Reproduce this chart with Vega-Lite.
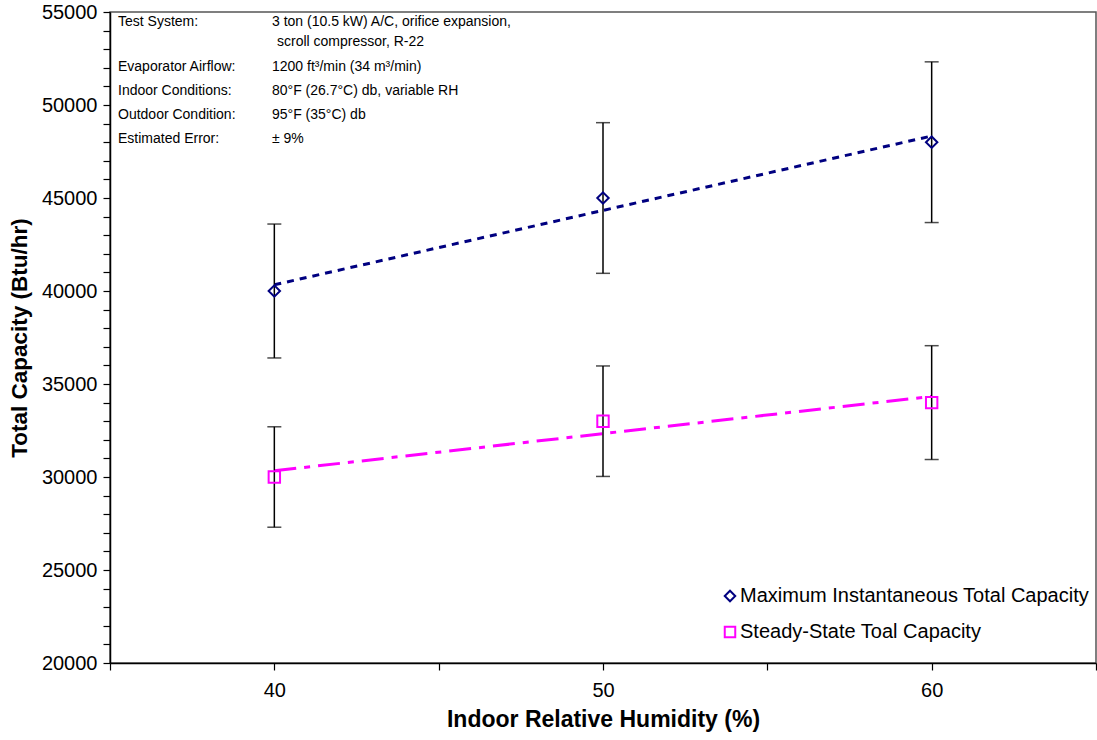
{
  "$schema": "https://vega.github.io/schema/vega-lite/v6.json",
  "width": 986,
  "height": 651,
  "autosize": {"type": "none"},
  "padding": {"left": 110, "top": 12, "right": 1, "bottom": 77},
  "background": "white",
  "datasets": {
    "measured": [
      {"series": "Maximum Instantaneous Total Capacity", "rh": 40, "capacity": 40000, "low": 36400, "high": 43600},
      {"series": "Maximum Instantaneous Total Capacity", "rh": 50, "capacity": 45000, "low": 40950, "high": 49050},
      {"series": "Maximum Instantaneous Total Capacity", "rh": 60, "capacity": 48000, "low": 43680, "high": 52320},
      {"series": "Steady-State Toal Capacity", "rh": 40, "capacity": 30000, "low": 27300, "high": 32700},
      {"series": "Steady-State Toal Capacity", "rh": 50, "capacity": 33000, "low": 30030, "high": 35970},
      {"series": "Steady-State Toal Capacity", "rh": 60, "capacity": 34000, "low": 30940, "high": 37060}
    ],
    "trendMax": [
      {"rh": 40, "capacity": 40333},
      {"rh": 60, "capacity": 48333}
    ],
    "trendSteady": [
      {"rh": 40, "capacity": 30333},
      {"rh": 60, "capacity": 34333}
    ],
    "notesTop": [
      {"heading": "Test System:", "detail": "3 ton (10.5 kW) A/C, orifice expansion,", "continuation": "scroll compressor, R-22"}
    ],
    "notes": [
      {
        "headings": ["Evaporator Airflow:", "Indoor Conditions:", "Outdoor Condition:", "Estimated Error:"],
        "details": ["1200 ft³/min (34 m³/min)", "80°F (26.7°C) db, variable RH", "95°F (35°C) db", "± 9%"]
      }
    ]
  },
  "config": {
    "font": "Liberation Sans",
    "view": {"stroke": "#555555", "strokeWidth": 1.5},
    "axis": {
      "grid": false,
      "domainColor": "black",
      "domainWidth": 1.5,
      "tickColor": "black",
      "tickWidth": 1.2,
      "tickSize": 7,
      "labelFont": "Liberation Sans",
      "labelFontSize": 20,
      "labelColor": "black",
      "titleFont": "Liberation Sans",
      "titleFontWeight": "bold",
      "titleColor": "black",
      "labelOverlap": false,
      "labelFlush": false
    },
    "legend": {
      "labelFont": "Liberation Sans",
      "labelFontSize": 20,
      "labelColor": "black",
      "labelLimit": 600
    }
  },
  "layer": [
    {
      "data": {"name": "trendMax"},
      "mark": {"type": "line", "color": "#000080", "strokeWidth": 3, "strokeDash": [7, 6]},
      "encoding": {
        "x": {
          "field": "rh",
          "type": "quantitative",
          "title": "Indoor Relative Humidity (%)",
          "scale": {"domain": [35, 65], "nice": false, "zero": false},
          "axis": {
            "values": [35, 40, 45, 50, 55, 60, 65],
            "tickCount": 100,
            "labelExpr": "datum.value % 10 === 0 ? format(datum.value, 'd') : ''",
            "labelPadding": 10,
            "titlePadding": 8,
            "titleFontSize": 23
          }
        },
        "y": {
          "field": "capacity",
          "type": "quantitative",
          "title": "Total Capacity (Btu/hr)",
          "scale": {"domain": [20000, 55000], "nice": false, "zero": false},
          "axis": {
            "values": [20000, 21000, 22000, 23000, 24000, 25000, 26000, 27000, 28000, 29000, 30000, 31000, 32000, 33000, 34000, 35000, 36000, 37000, 38000, 39000, 40000, 41000, 42000, 43000, 44000, 45000, 46000, 47000, 48000, 49000, 50000, 51000, 52000, 53000, 54000, 55000],
            "tickCount": 100,
            "labelExpr": "datum.value % 5000 === 0 ? format(datum.value, 'd') : ''",
            "labelPadding": 6,
            "titlePadding": 10,
            "titleFontSize": 22.5
          }
        }
      }
    },
    {
      "data": {"name": "trendSteady"},
      "mark": {"type": "line", "color": "#FF00FF", "strokeWidth": 3, "strokeDash": [22, 8, 6, 8]},
      "encoding": {
        "x": {"field": "rh", "type": "quantitative", "title": "Indoor Relative Humidity (%)"},
        "y": {"field": "capacity", "type": "quantitative", "title": "Total Capacity (Btu/hr)"}
      }
    },
    {
      "data": {"name": "measured"},
      "mark": {
        "type": "errorbar",
        "rule": {"color": "black", "strokeWidth": 1.5},
        "ticks": {"color": "black", "size": 14, "thickness": 1.5}
      },
      "encoding": {
        "x": {"field": "rh", "type": "quantitative", "title": "Indoor Relative Humidity (%)"},
        "y": {"field": "low", "type": "quantitative", "title": "Total Capacity (Btu/hr)"},
        "y2": {"field": "high"}
      }
    },
    {
      "data": {"name": "measured"},
      "mark": {"type": "point", "filled": false, "fill": "white", "fillOpacity": 0, "opacity": 1, "strokeWidth": 2},
      "encoding": {
        "x": {"field": "rh", "type": "quantitative", "title": "Indoor Relative Humidity (%)"},
        "y": {"field": "capacity", "type": "quantitative", "title": "Total Capacity (Btu/hr)"},
        "color": {
          "field": "series",
          "type": "nominal",
          "scale": {"domain": ["Maximum Instantaneous Total Capacity", "Steady-State Toal Capacity"], "range": ["#000080", "#FF00FF"]},
          "legend": {
            "title": null,
            "orient": "none",
            "legendX": 610,
            "legendY": 574,
            "padding": 0,
            "rowPadding": 16,
            "labelOffset": 0,
            "symbolSize": 110,
            "symbolStrokeWidth": 2,
            "symbolFillColor": "white",
            "symbolOpacity": 1
          }
        },
        "shape": {
          "field": "series",
          "type": "nominal",
          "scale": {"domain": ["Maximum Instantaneous Total Capacity", "Steady-State Toal Capacity"], "range": ["diamond", "square"]},
          "legend": {
            "title": null,
            "orient": "none",
            "legendX": 610,
            "legendY": 574,
            "padding": 0,
            "rowPadding": 16,
            "labelOffset": 0,
            "symbolSize": 110,
            "symbolStrokeWidth": 2,
            "symbolFillColor": "white",
            "symbolOpacity": 1
          }
        },
        "size": {"value": 130}
      }
    },
    {
      "data": {"name": "notesTop"},
      "mark": {"type": "text", "align": "left", "baseline": "top", "dx": 8, "dy": 3, "fontSize": 14, "color": "black"},
      "encoding": {
        "x": {"datum": 35},
        "y": {"datum": 55000},
        "text": {"field": "heading"}
      }
    },
    {
      "data": {"name": "notesTop"},
      "mark": {"type": "text", "align": "left", "baseline": "top", "dx": 162, "dy": 3, "fontSize": 14, "color": "black"},
      "encoding": {
        "x": {"datum": 35},
        "y": {"datum": 55000},
        "text": {"field": "detail"}
      }
    },
    {
      "data": {"name": "notesTop"},
      "mark": {"type": "text", "align": "left", "baseline": "top", "dx": 167, "dy": 23, "fontSize": 14, "color": "black"},
      "encoding": {
        "x": {"datum": 35},
        "y": {"datum": 55000},
        "text": {"field": "continuation"}
      }
    },
    {
      "data": {"name": "notes"},
      "mark": {"type": "text", "align": "left", "baseline": "top", "dx": 8, "dy": 48, "fontSize": 14, "lineHeight": 24, "color": "black"},
      "encoding": {
        "x": {"datum": 35},
        "y": {"datum": 55000},
        "text": {"field": "headings"}
      }
    },
    {
      "data": {"name": "notes"},
      "mark": {"type": "text", "align": "left", "baseline": "top", "dx": 162, "dy": 48, "fontSize": 14, "lineHeight": 24, "color": "black"},
      "encoding": {
        "x": {"datum": 35},
        "y": {"datum": 55000},
        "text": {"field": "details"}
      }
    }
  ]
}
